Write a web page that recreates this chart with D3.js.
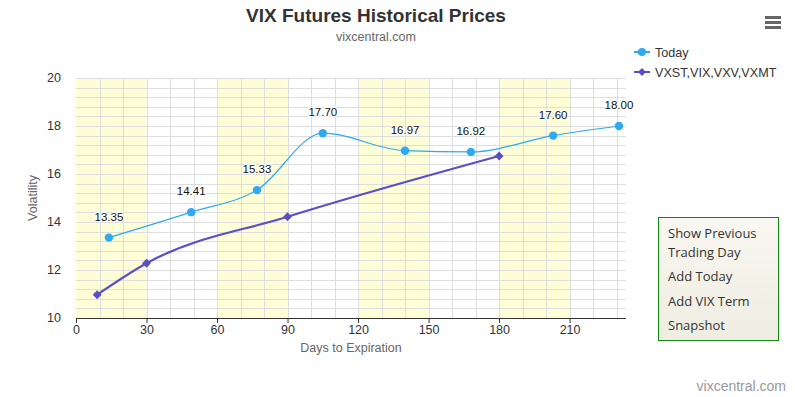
<!DOCTYPE html>
<html>
<head>
<meta charset="utf-8">
<script src="https://cdn.jsdelivr.net/npm/d3@7"></script>
<style>
  body { margin: 0; background: #fff; }
  #wrap { position: relative; width: 795px; height: 397px; }
  #btns {
    position: absolute; left: 658px; top: 217px; width: 121px; height: 124px;
    border: 1px solid #118a11; background: linear-gradient(#f8f7f1, #efede1);
    font-family: "Open Sans", sans-serif; font-size: 13px; color: #333;
    box-sizing: border-box;
  }
  #btns div { position: absolute; left: 9px; white-space: nowrap; }
</style>
</head>
<body>
<div id="wrap">
<svg id="main"></svg>
<div id="btns">
  <div style="top:6px">Show Previous</div>
  <div style="top:25px">Trading Day</div>
  <div style="top:49px">Add Today</div>
  <div style="top:74px">Add VIX Term</div>
  <div style="top:98px">Snapshot</div>
</div>
</div>
<script>
// today's futures curve
var todayDays = [14, 49, 77, 105, 140, 168, 203, 231];
var todayVals = [13.35, 14.41, 15.33, 17.70, 16.97, 16.92, 17.60, 18.00];

// VXST, VIX, VXV, VXMT
var termDays = [9, 30, 90, 180];
var termVals = [10.97, 12.28, 14.22, 16.75];

var xTicks = [0, 30, 60, 90, 120, 150, 180, 210];
var yTicks = [10, 12, 14, 16, 18, 20];
var bands = [[0, 30], [60, 90], [120, 150], [180, 210]];

var W = 795, H = 397;
var plot = {l: 76, r: 626, t: 78, b: 318};
var font = "'Liberation Sans', Arial, sans-serif";

var s = d3.select("#main").attr("width", W).attr("height", H)
  .style("font-family", font);

var x = d3.scaleLinear().domain([0, 234]).range([plot.l, plot.r]);
var y = d3.scaleLinear().domain([10, 20]).range([plot.b, plot.t]);

// plot bands
s.append("g").selectAll("rect").data(bands).enter().append("rect")
  .attr("x", d => x(d[0])).attr("width", d => x(d[1]) - x(d[0]))
  .attr("y", plot.t).attr("height", plot.b - plot.t)
  .attr("fill", "#fdfdd6");

// grid
var g = s.append("g").attr("stroke", "#dedede").attr("stroke-width", 1);
d3.range(10, 20.01, 0.4).forEach(function(v) {
  g.append("line").attr("x1", plot.l).attr("x2", plot.r)
    .attr("y1", Math.round(y(v)) + 0.5).attr("y2", Math.round(y(v)) + 0.5);
});
d3.range(10, 234, 10).forEach(function(v) {
  g.append("line").attr("y1", plot.t).attr("y2", plot.b)
    .attr("x1", Math.round(x(v)) + 0.5).attr("x2", Math.round(x(v)) + 0.5);
});

// x axis
var xa = s.append("g").attr("transform", "translate(0," + plot.b + ")")
  .call(d3.axisBottom(x).tickValues(xTicks).tickSize(5).tickPadding(2));
xa.select(".domain").attr("stroke", "#333").attr("d", "M" + plot.l + ",0.5H" + plot.r);
xa.selectAll(".tick line").attr("stroke", "#333");
xa.selectAll("text").attr("fill", "#333").style("font-size", "12.5px").style("font-family", font);

// y axis labels
s.append("g").selectAll("text").data(yTicks).enter().append("text")
  .attr("x", 61).attr("y", d => y(d) + 4).attr("text-anchor", "end")
  .attr("fill", "#333").style("font-size", "12.5px").text(d => d);

// axis titles
s.append("text").attr("x", (plot.l + plot.r) / 2).attr("y", 352)
  .attr("text-anchor", "middle").attr("fill", "#666").style("font-size", "12.5px")
  .text("Days to Expiration");
s.append("text").attr("transform", "translate(37," + (plot.t + plot.b) / 2 + ") rotate(-90)")
  .attr("text-anchor", "middle").attr("fill", "#666").style("font-size", "12.5px")
  .text("Volatility");

// titles
s.append("text").attr("x", 376).attr("y", 22).attr("text-anchor", "middle")
  .attr("fill", "#333").style("font-size", "19px").style("font-weight", "bold")
  .text("VIX Futures Historical Prices");
s.append("text").attr("x", 376).attr("y", 41).attr("text-anchor", "middle")
  .attr("fill", "#666").style("font-size", "12.5px").text("vixcentral.com");

var todayColor = "#2eaaf2", termColor = "#5a4fc6";
var line = d3.line().x(d => x(d[0])).y(d => y(d[1])).curve(d3.curveMonotoneX);

var termData = d3.zip(termDays, termVals);
var todayData = d3.zip(todayDays, todayVals);

s.append("path").datum(termData).attr("d", line).attr("fill", "none")
  .attr("stroke", termColor).attr("stroke-width", 2.2);
s.append("g").selectAll("path").data(termData).enter().append("path")
  .attr("d", d3.symbol(d3.symbolDiamond2, 50))
  .attr("transform", d => "translate(" + x(d[0]) + "," + y(d[1]) + ")")
  .attr("fill", termColor);

s.append("path").datum(todayData).attr("d", line).attr("fill", "none")
  .attr("stroke", todayColor).attr("stroke-width", 1.2);
s.append("g").selectAll("circle").data(todayData).enter().append("circle")
  .attr("cx", d => x(d[0])).attr("cy", d => y(d[1])).attr("r", 4.2)
  .attr("fill", todayColor);
s.append("g").selectAll("text").data(todayData).enter().append("text")
  .attr("x", d => x(d[0])).attr("y", d => y(d[1]) - 17)
  .attr("text-anchor", "middle").attr("fill", "#111").style("font-size", "11.5px")
  .attr("stroke", "#fff").attr("stroke-width", 2).attr("paint-order", "stroke")
  .text(d => d[1].toFixed(2));

// legend
var leg = s.append("g");
[["Today", todayColor, "c"], ["VXST,VIX,VXV,VXMT", termColor, "d"]].forEach(function(it, i) {
  var ly = 52 + i * 20;
  leg.append("line").attr("x1", 634).attr("x2", 650).attr("y1", ly).attr("y2", ly)
    .attr("stroke", it[1]).attr("stroke-width", 2);
  if (it[2] == "c") {
    leg.append("circle").attr("cx", 642).attr("cy", ly).attr("r", 4).attr("fill", it[1]);
  } else {
    leg.append("path").attr("d", d3.symbol(d3.symbolDiamond2, 40))
      .attr("transform", "translate(642," + ly + ")").attr("fill", it[1]);
  }
  leg.append("text").attr("x", 655).attr("y", ly + 5).attr("fill", "#333")
    .style("font-size", "12.6px").text(it[0]);
});

// menu icon
[0, 5, 10].forEach(function(o) {
  s.append("rect").attr("x", 765).attr("y", 16 + o).attr("width", 16).attr("height", 3)
    .attr("fill", "#666");
});

// credit
s.append("text").attr("x", 786).attr("y", 391).attr("text-anchor", "end")
  .attr("fill", "#999").style("font-size", "14px").text("vixcentral.com");
</script>
</body>
</html>
